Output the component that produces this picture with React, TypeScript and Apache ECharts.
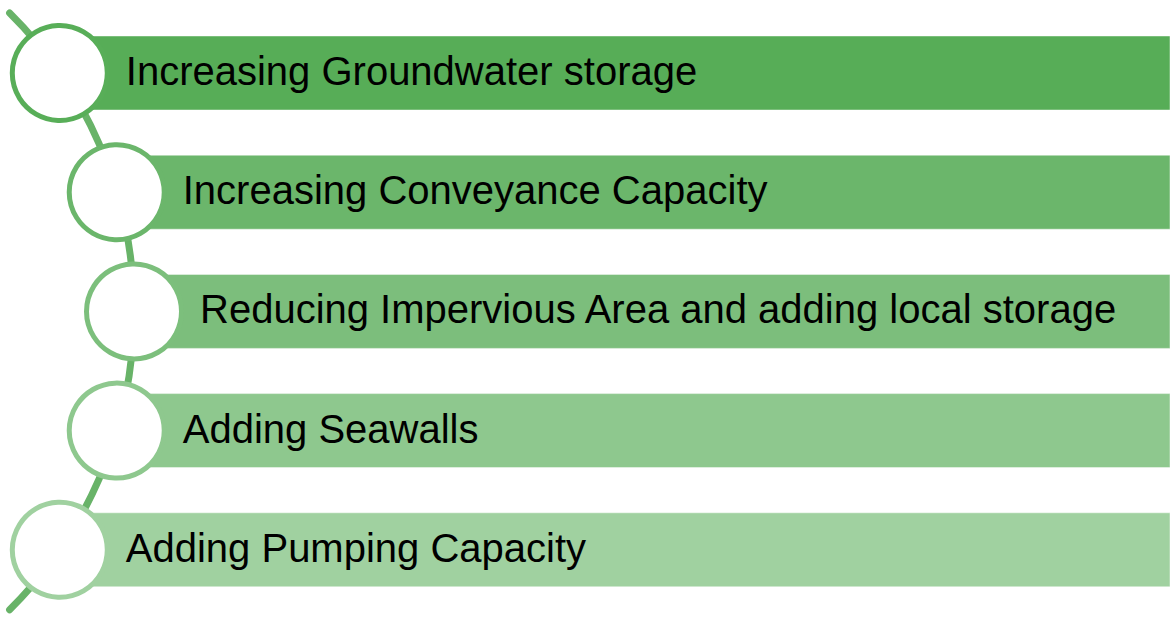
import React, { useEffect, useRef } from "react";
import * as echarts from "echarts";

const labels: string[] = [
  "Increasing Groundwater storage",
  "Increasing Conveyance Capacity",
  "Reducing Impervious Area and adding local storage",
  "Adding Seawalls",
  "Adding Pumping Capacity",
];
const barColors: string[] = ["#57ad57", "#6bb66b", "#7cbe7c", "#8ec88e", "#a0d1a0"];
const ringColors: string[] = ["#58ae58", "#6bb66b", "#7cbf7c", "#8ec88e", "#a0d1a0"];

const ARC_R = 420;
const ARC_RIGHT = 134;
const CIRCLE_R = 47.5;
const BAR_H = 74;

export default function App() {
  const ref = useRef<HTMLDivElement>(null);
  useEffect(() => {
    if (!ref.current) return;
    const chart = echarts.init(ref.current, undefined, { renderer: "svg" });
    chart.setOption({
      animation: false,
      grid: { left: 0, right: 0, top: 13.4, bottom: 7.6 },
      xAxis: { type: "value", min: 0, max: 1170, show: false },
      yAxis: { type: "category", data: labels, inverse: true, show: false },
      series: [
        {
          type: "custom",
          data: labels.map((_, i) => [0, i]),
          renderItem: (params: any, api: any) => {
            const i = params.dataIndex;
            const cy = api.coord([0, i])[1];
            const mid = api.coord([0, Math.floor(labels.length / 2)])[1];
            const right = api.coord([1170, i])[0];
            const acx = ARC_RIGHT - ARC_R;
            const cx = acx + Math.sqrt(ARC_R * ARC_R - (cy - mid) * (cy - mid));
            const children: any[] = [];
            if (i === 0) {
              children.push({
                type: "arc",
                shape: { cx: acx, cy: mid, r: ARC_R, startAngle: -0.79, endAngle: 0.79, clockwise: true },
                style: { stroke: "#68b368", lineWidth: 7, fill: null, lineCap: "round" },
              });
            }
            children.push({
              type: "rect",
              shape: { x: cx, y: cy - BAR_H / 2, width: right - cx, height: BAR_H },
              style: { fill: barColors[i], stroke: "rgba(255,255,255,0.45)", lineWidth: 1 },
            });
            children.push({
              type: "circle",
              shape: { cx, cy, r: CIRCLE_R },
              style: { fill: "#ffffff", stroke: ringColors[i], lineWidth: 5 },
            });
            children.push({
              type: "text",
              x: cx + CIRCLE_R + 2.5 + 16,
              y: cy - 2,
              style: {
                text: labels[i],
                fill: "#000000",
                fontSize: 40,
                fontFamily: "Liberation Sans, Arial, sans-serif",
                align: "left",
                verticalAlign: "middle",
              },
            });
            return { type: "group", children };
          },
        },
      ],
    });
    return () => chart.dispose();
  }, []);
  return (
    <div
      ref={ref}
      style={{ position: "absolute", left: 0, top: 0, width: 1170, height: 617, background: "#ffffff" }}
    />
  );
}
